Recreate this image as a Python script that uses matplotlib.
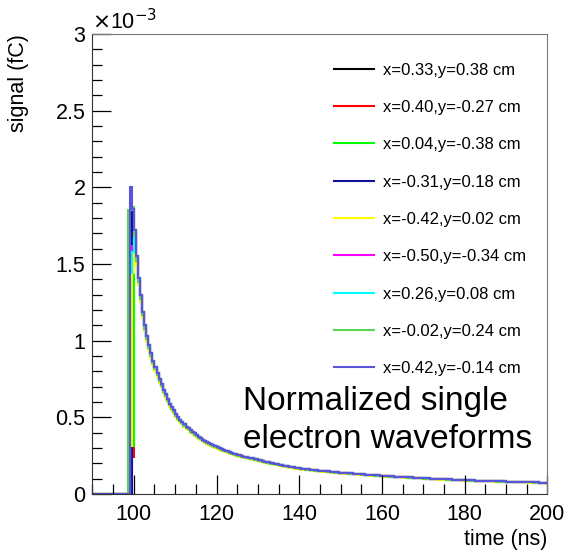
import numpy as np
import matplotlib
matplotlib.use("Agg")
import matplotlib.pyplot as plt
from matplotlib.ticker import MultipleLocator, FuncFormatter

plt.rcParams['font.family'] = ['Liberation Sans', 'DejaVu Sans']

# signal in units of 1e-3 fC, 0.5 ns bins
bin_width = 0.5
t_start = 90.0
t_stop = 200.0

labels = ["x=0.33,y=0.38 cm", "x=0.40,y=-0.27 cm", "x=0.04,y=-0.38 cm",
          "x=-0.31,y=0.18 cm", "x=-0.42,y=0.02 cm", "x=-0.50,y=-0.34 cm",
          "x=0.26,y=0.08 cm", "x=-0.02,y=0.24 cm", "x=0.42,y=-0.14 cm"]
colors = ["#000000", "#ff0000", "#00ff00", "#10109a", "#ffff00",
          "#ff00ff", "#00ffff", "#59d454", "#5954d9"]

# first three bins of each waveform (98.5, 99.0, 99.5 ns)
heads = [
    [0.00, 0.92, 1.86],
    [0.00, 0.135, 0.24],
    [0.00, 0.24, 0.31],
    [0.00, 0.00, 1.86],
    [0.00, 0.31, 1.44],
    [0.00, 1.58, 1.62],
    [0.00, 1.44, 1.58],
    [1.85, 1.85, 1.87],
    [0.00, 2.00, 1.86],
]
gains = [1.0, 0.985, 1.0, 1.0, 0.965, 0.99, 0.995, 0.98, 1.0]

# common tail from 100 ns onwards
tail = [
    1.72, 1.55, 1.41, 1.30, 1.19, 1.10, 1.03, 0.97, 0.92, 0.87,
    0.83, 0.79, 0.75, 0.72, 0.68, 0.65, 0.62, 0.59, 0.565, 0.545,
    0.52, 0.50, 0.485, 0.47, 0.455, 0.44, 0.43, 0.415, 0.405, 0.395,
    0.385, 0.375, 0.365, 0.355, 0.347, 0.339, 0.331, 0.324, 0.317, 0.311,
    0.305, 0.299, 0.293, 0.288, 0.283, 0.278, 0.273, 0.268, 0.264, 0.260,
    0.256, 0.252, 0.248, 0.244, 0.241, 0.238, 0.235, 0.232, 0.229, 0.226,
    0.222, 0.219, 0.215, 0.212, 0.209, 0.206, 0.203, 0.200, 0.197, 0.194,
    0.191, 0.189, 0.186, 0.184, 0.181, 0.179, 0.177, 0.175, 0.172, 0.170,
    0.167, 0.165, 0.164, 0.162, 0.160, 0.159, 0.157, 0.156, 0.155, 0.153,
    0.152, 0.151, 0.150, 0.148, 0.147, 0.145, 0.144, 0.143, 0.141, 0.140,
    0.139, 0.138, 0.137, 0.136, 0.135, 0.134, 0.133, 0.132, 0.131, 0.130,
    0.129, 0.128, 0.127, 0.126, 0.125, 0.124, 0.123, 0.122, 0.121, 0.120,
    0.119, 0.118, 0.117, 0.116, 0.115, 0.115, 0.114, 0.113, 0.112, 0.112,
    0.111, 0.110, 0.109, 0.108, 0.108, 0.107, 0.106, 0.105, 0.105, 0.104,
    0.103, 0.102, 0.102, 0.101, 0.100, 0.100, 0.099, 0.098, 0.098, 0.097,
    0.097, 0.096, 0.095, 0.095, 0.094, 0.094, 0.093, 0.092, 0.092, 0.091,
    0.091, 0.090, 0.090, 0.089, 0.089, 0.088, 0.088, 0.087, 0.087, 0.086,
    0.086, 0.085, 0.085, 0.084, 0.084, 0.083, 0.083, 0.083, 0.082, 0.082,
    0.081, 0.081, 0.080, 0.080, 0.080, 0.079, 0.079, 0.078, 0.078, 0.078,
    0.077, 0.077, 0.077, 0.076, 0.076, 0.076, 0.075, 0.075, 0.075, 0.074,
]

edges = np.arange(t_start, t_stop + bin_width / 2, bin_width)
n_empty = int(round((98.5 - t_start) / bin_width))

fig = plt.figure(figsize=(5.67, 5.51), dpi=100)
ax = fig.add_axes([0.163, 0.1034, 0.8026, 0.8349])

for head, gain, col, lab in zip(heads, gains, colors, labels):
    vals = np.concatenate([np.zeros(n_empty), head, gain * np.array(tail)])
    ax.stairs(vals, edges, color=col, lw=1.5, label=lab, baseline=None)

ax.set_xlim(t_start, t_stop)
ax.set_ylim(0, 3)

# ROOT-like axes: inward ticks on left and bottom only
ax.xaxis.set_major_locator(MultipleLocator(20))
ax.xaxis.set_minor_locator(MultipleLocator(5))
ax.yaxis.set_major_locator(MultipleLocator(0.5))
ax.yaxis.set_minor_locator(MultipleLocator(0.1))
ax.yaxis.set_major_formatter(FuncFormatter(lambda v, p: f"{v:g}"))
ax.tick_params(which='both', direction='in', top=False, right=False,
               labelsize=15.5, width=0.9)
ax.tick_params(which='major', length=14)
ax.tick_params(which='minor', length=7)
ax.tick_params(axis='x', pad=7)
ax.tick_params(axis='y', pad=5)
for side in ['top', 'right']:
    ax.spines[side].set_color('#777777')
ax.spines['left'].set_color('#333333')
ax.spines['bottom'].set_color('#333333')

ax.set_xlabel("time (ns)", fontsize=15.5, loc='right', labelpad=3)
ax.set_ylabel("signal (fC)", fontsize=15.5, loc='top', labelpad=19)
ax.text(0.0, 1.0, r"$\times$10$^{-3}$", transform=ax.transAxes,
        fontsize=15.5, ha='left', va='bottom')

ax.legend(loc='upper right', bbox_to_anchor=(0.972, 0.956), frameon=False,
          fontsize=12, handlelength=2.4, handletextpad=0.55,
          labelspacing=1.34, borderpad=0)

ax.text(0.331, 0.084, "Normalized single\nelectron waveforms",
        transform=ax.transAxes, fontsize=24, ha='left', va='bottom',
        linespacing=1.32)

fig.savefig("out.png", dpi=100)
